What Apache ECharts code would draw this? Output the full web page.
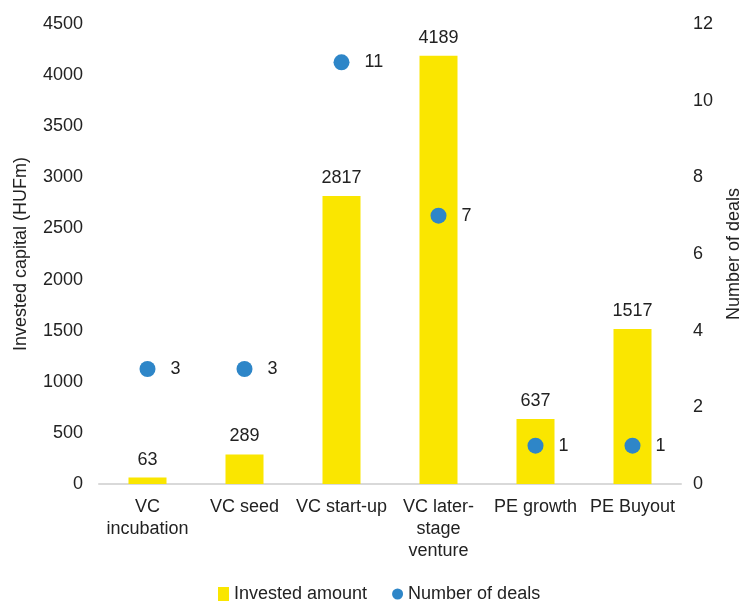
<!DOCTYPE html>
<html>
<head>
<meta charset="utf-8">
<script src="https://cdn.jsdelivr.net/npm/echarts@6/dist/echarts.min.js"></script>
<style>
  html, body { margin: 0; padding: 0; background: #fff; }
  #chart { width: 743px; height: 601px; }
</style>
</head>
<body>
<div id="chart"></div>
<script>
const categories = ["VC\nincubation", "VC seed", "VC start-up", "VC later-\nstage\nventure", "PE growth", "PE Buyout"];
const investedAmount = [63, 289, 2817, 4189, 637, 1517];
const numberOfDeals = [3, 3, 11, 7, 1, 1];

const font = "Liberation Sans, Arial, sans-serif";
const chart = echarts.init(document.getElementById("chart"));

chart.setOption({
  animation: false,
  textStyle: { fontFamily: font },
  legend: {
    top: 585,
    left: 218,
    padding: 0,
    itemGap: 25,
    itemWidth: 11,
    itemHeight: 14,
    textStyle: { fontSize: 18, color: "#222", fontFamily: font },
    data: [
      { name: "Invested amount", icon: "rect" },
      { name: "Number of deals", icon: "circle" }
    ]
  },
  grid: { left: 99, right: 62, top: 24, bottom: 117, outerBoundsMode: "none", containLabel: false },
  xAxis: {
    type: "category",
    data: categories,
    axisTick: { show: false },
    axisLine: { lineStyle: { color: "#d9d9d9", width: 2 } },
    axisLabel: { fontSize: 18, color: "#222", lineHeight: 22, margin: 12, interval: 0 }
  },
  yAxis: [
    {
      type: "value",
      min: 0, max: 4500, interval: 500,
      name: "Invested capital (HUFm)",
      nameLocation: "middle",
      nameGap: 69,
      nameTextStyle: { fontSize: 18, color: "#222" },
      axisLine: { show: false },
      axisTick: { show: false },
      splitLine: { show: false },
      axisLabel: { fontSize: 18, color: "#222", margin: 16, formatter: (v) => String(v) }
    },
    {
      type: "value",
      min: 0, max: 12, interval: 2,
      name: "Number of deals",
      nameLocation: "middle",
      nameGap: 44,
      nameRotate: 90,
      nameTextStyle: { fontSize: 18, color: "#222" },
      axisLine: { show: false },
      axisTick: { show: false },
      splitLine: { show: false },
      axisLabel: { fontSize: 18, color: "#222", margin: 12, formatter: (v) => String(v) }
    }
  ],
  series: [
    {
      name: "Invested amount",
      type: "bar",
      data: investedAmount,
      barWidth: 38,
      itemStyle: { color: "#FAE600" },
      label: { show: true, position: "top", fontSize: 18, color: "#222", distance: 9 }
    },
    {
      name: "Number of deals",
      type: "scatter",
      yAxisIndex: 1,
      data: numberOfDeals,
      symbolSize: 16,
      itemStyle: { color: "#2E86C8", opacity: 1 },
      label: { show: true, position: "right", fontSize: 18, color: "#222", distance: 15 }
    }
  ]
});
</script>
</body>
</html>
